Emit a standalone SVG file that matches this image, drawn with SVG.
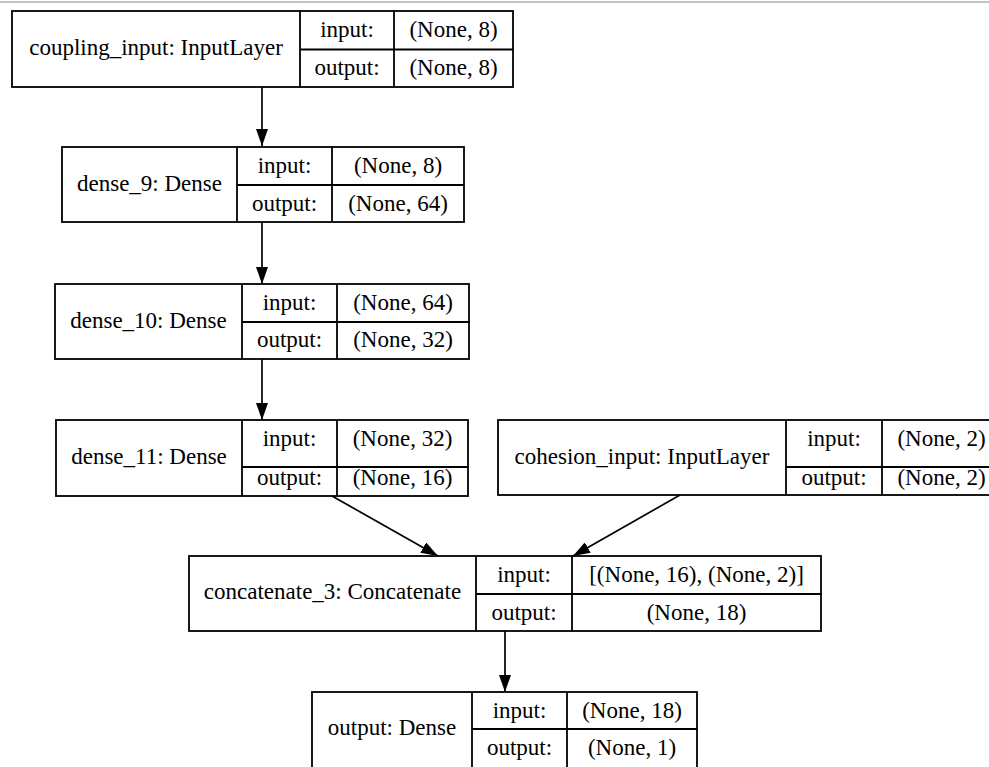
<svg xmlns="http://www.w3.org/2000/svg" width="989" height="767" viewBox="0 0 989 767">
<style>
.box{fill:#fff;stroke:#000;stroke-width:1.8}
.ln{stroke:#000;stroke-width:1.8;fill:none}
text{font-family:"Liberation Serif","Times New Roman",serif;font-size:23px;fill:#000;text-anchor:middle}
.edge{stroke:#000;stroke-width:1.7;fill:none}
</style>
<defs>
<marker id="ah" markerWidth="17" markerHeight="12" refX="17" refY="6" orient="auto" markerUnits="userSpaceOnUse">
<path d="M0,0 L17,6 L0,12 Z" fill="#000"/>
</marker>
</defs>
<rect width="989" height="767" fill="#fff"/>
<line x1="0" y1="2" x2="989" y2="2" stroke="#c4c4c4" stroke-width="2"/>

<g id="edges">
<line class="edge" x1="262" y1="87" x2="262" y2="146" marker-end="url(#ah)"/>
<line class="edge" x1="262" y1="222" x2="262" y2="284" marker-end="url(#ah)"/>
<line class="edge" x1="262" y1="359" x2="262" y2="420" marker-end="url(#ah)"/>
<line class="edge" x1="332" y1="496" x2="438" y2="556" marker-end="url(#ah)"/>
<line class="edge" x1="680" y1="495" x2="573" y2="556" marker-end="url(#ah)"/>
<line class="edge" x1="505" y1="631" x2="505" y2="692" marker-end="url(#ah)"/>
</g>

<g id="coupling_input">
<rect class="box" x="12" y="11" width="501" height="76"/>
<line class="ln" x1="300" y1="11" x2="300" y2="87"/>
<line class="ln" x1="394" y1="11" x2="394" y2="87"/>
<line class="ln" x1="300" y1="49.5" x2="513" y2="49.5"/>
<text x="156" y="55">coupling_input: InputLayer</text>
<text x="347" y="37">input:</text>
<text x="453.5" y="37">(None, 8)</text>
<text x="347" y="75">output:</text>
<text x="453.5" y="75">(None, 8)</text>
</g>

<g id="dense_9">
<rect class="box" x="62" y="147" width="402" height="75"/>
<line class="ln" x1="237" y1="147" x2="237" y2="222"/>
<line class="ln" x1="332" y1="147" x2="332" y2="222"/>
<line class="ln" x1="237" y1="185" x2="464" y2="185"/>
<text x="149.5" y="191">dense_9: Dense</text>
<text x="284.5" y="173">input:</text>
<text x="398" y="173">(None, 8)</text>
<text x="284.5" y="211">output:</text>
<text x="398" y="211">(None, 64)</text>
</g>

<g id="dense_10">
<rect class="box" x="55" y="284" width="414" height="75"/>
<line class="ln" x1="242" y1="284" x2="242" y2="359"/>
<line class="ln" x1="337" y1="284" x2="337" y2="359"/>
<line class="ln" x1="242" y1="322" x2="469" y2="322"/>
<text x="148.5" y="328">dense_10: Dense</text>
<text x="289.5" y="310">input:</text>
<text x="403" y="310">(None, 64)</text>
<text x="289.5" y="347">output:</text>
<text x="403" y="347">(None, 32)</text>
</g>

<g id="dense_11">
<rect class="box" x="56" y="420" width="412" height="76"/>
<line class="ln" x1="242" y1="420" x2="242" y2="496"/>
<line class="ln" x1="337" y1="420" x2="337" y2="496"/>
<line class="ln" x1="242" y1="467" x2="468" y2="467"/>
<text x="149" y="464">dense_11: Dense</text>
<text x="289.5" y="446">input:</text>
<text x="402.5" y="446">(None, 32)</text>
<text x="289.5" y="485">output:</text>
<text x="402.5" y="485">(None, 16)</text>
</g>

<g id="cohesion_input">
<rect class="box" x="498" y="420" width="503" height="75"/>
<line class="ln" x1="786" y1="420" x2="786" y2="495"/>
<line class="ln" x1="882" y1="420" x2="882" y2="495"/>
<line class="ln" x1="786" y1="467" x2="1001" y2="467"/>
<text x="642" y="464">cohesion_input: InputLayer</text>
<text x="834" y="446">input:</text>
<text x="941.5" y="446">(None, 2)</text>
<text x="834" y="485">output:</text>
<text x="941.5" y="485">(None, 2)</text>
</g>

<g id="concatenate_3">
<rect class="box" x="189" y="556" width="632" height="75"/>
<line class="ln" x1="476" y1="556" x2="476" y2="631"/>
<line class="ln" x1="572" y1="556" x2="572" y2="631"/>
<line class="ln" x1="476" y1="594" x2="821" y2="594"/>
<text x="332.5" y="599">concatenate_3: Concatenate</text>
<text x="524" y="582">input:</text>
<text x="696.5" y="582">[(None, 16), (None, 2)]</text>
<text x="524" y="620">output:</text>
<text x="696.5" y="620">(None, 18)</text>
</g>

<g id="output">
<rect class="box" x="312" y="692" width="385" height="76"/>
<line class="ln" x1="472" y1="692" x2="472" y2="768"/>
<line class="ln" x1="567" y1="692" x2="567" y2="768"/>
<line class="ln" x1="472" y1="729" x2="697" y2="729"/>
<text x="392" y="735">output: Dense</text>
<text x="519.5" y="718">input:</text>
<text x="632" y="718">(None, 18)</text>
<text x="519.5" y="755">output:</text>
<text x="632" y="755">(None, 1)</text>
</g>
</svg>
